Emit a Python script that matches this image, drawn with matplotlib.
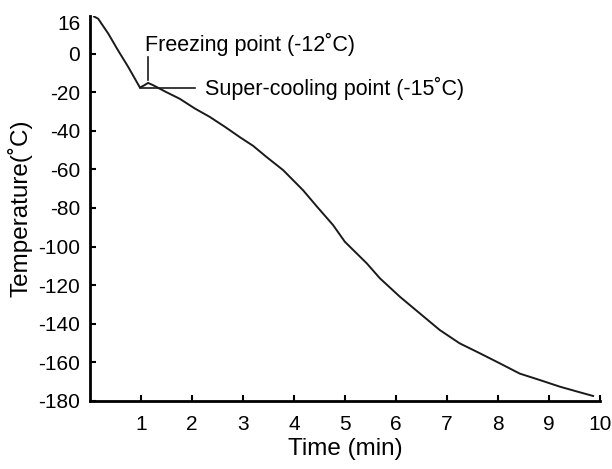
import matplotlib
matplotlib.use("Agg")
from matplotlib import pyplot as plt

# curve
time_min = [0.08, 0.16, 0.36, 0.55, 0.75, 0.98, 1.06, 1.14, 1.24, 1.5, 1.76, 2.06, 2.35,
            2.65, 2.94, 3.2, 3.46, 3.79, 4.18, 4.45, 4.77, 5.0, 5.43, 5.69, 6.08,
            6.47, 6.86, 7.25, 7.65, 8.04, 8.43, 8.82, 9.22, 9.61, 9.87]
temp_c = [19.2, 18.1, 10.3, 1.7, -6.9, -17.6, -16.5, -15.2, -16.4, -20, -23.4, -28.5, -32.8,
          -38.0, -43.3, -47.8, -53.5, -60.4, -70.8, -79.2, -88.9, -97.5, -108.7, -116.5, -126,
          -134.6, -143.2, -150.1, -155.3, -160.5, -165.8, -169.1, -172.6, -175.5, -177.4]

x_ticks = [1, 2, 3, 4, 5, 6, 7, 8, 9, 10]
y_ticks = [-180, -160, -140, -120, -100, -80, -60, -40, -20, 0, 16]

freeze_label = "Freezing point (-12˚C)"
super_label = "Super-cooling point (-15˚C)"

plt.rcParams['font.family'] = ['Liberation Sans', 'DejaVu Sans']
plt.rcParams['axes.unicode_minus'] = False

fig = plt.figure(figsize=(6.12, 4.69), dpi=100)
ax = fig.add_axes([0.147, 0.145, 0.833, 0.821])

ax.plot(time_min, temp_c, color='#1a1a1a', lw=1.4)

# leader lines for the two labels
ax.plot([1.14, 1.14], [-1.9, -13.8], color='#1a1a1a', lw=1.2)
ax.plot([0.98, 2.06], [-17.6, -17.6], color='#1a1a1a', lw=1.2)
ax.text(1.08, 4.5, freeze_label, fontsize=15.5, va='center', ha='left')
ax.text(2.25, -18, super_label, fontsize=15.5, va='center', ha='left')

ax.set_xlim(0, 10)
ax.set_ylim(-180, 19.5)
ax.set_xticks(x_ticks)
ax.set_yticks(y_ticks)
ax.tick_params(direction='in', length=4, width=1.5, labelsize=15)
ax.tick_params(axis='x', pad=10)
ax.tick_params(axis='y', pad=7)
ax.yaxis.get_major_ticks()[-1].tick1line.set_visible(False)

for side in ['top', 'right']:
    ax.spines[side].set_visible(False)
for side in ['left', 'bottom']:
    ax.spines[side].set_linewidth(2)

ax.set_xlabel('Time (min)', fontsize=17.5, labelpad=3)
ax.set_ylabel('Temperature(˚C)', fontsize=17.5, labelpad=4)

fig.savefig('out.png', dpi=100)
